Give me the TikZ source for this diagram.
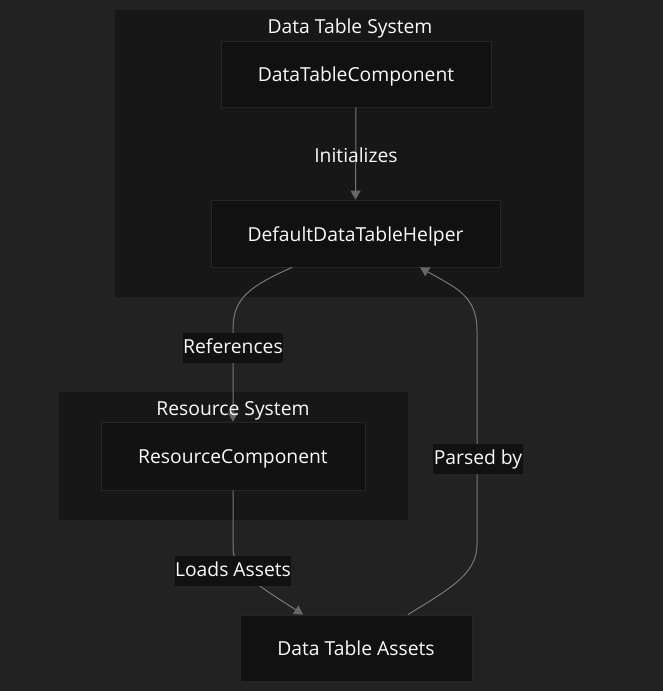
\documentclass[tikz,border=0pt]{standalone}
\usepackage{fontspec}
\setmainfont{Open Sans}
\usetikzlibrary{arrows.meta,calc}
\definecolor{bg}{HTML}{222222}
\definecolor{clus}{HTML}{171717}
\definecolor{nodef}{HTML}{111111}
\definecolor{nodeb}{HTML}{262626}
\definecolor{edgec}{HTML}{777777}
\definecolor{tipc}{HTML}{666666}
\definecolor{txt}{HTML}{FAFAFA}
\tikzset{
  every node/.style={font=\fontsize{19.3}{22}\selectfont, text=txt, text height=14pt, text depth=4pt},
  cluster/.style={fill=clus, draw=none},
  box/.style={rectangle, fill=nodef, draw=nodeb, line width=0.8pt, inner sep=0pt, text height=16.5pt, text depth=1.5pt},
  edge/.style={draw=edgec, line width=1pt, -{Triangle[width=10pt,length=9pt,color=tipc]}},
  lbl/.style={fill=nodef, inner xsep=0.5pt, inner ysep=6pt},
}
\begin{document}
\begin{tikzpicture}[x=1pt,y=-1pt]
\fill[bg] (0,0) rectangle (663,691);
\useasboundingbox (0,0) rectangle (663,691);
% clusters
\fill[cluster] (115,10) rectangle (584,297);
\node (t1) at (350,28) {Data Table System};
\fill[cluster] (59,392) rectangle (408,520);
% nodes
\node[box, minimum width=270pt, minimum height=66pt] (dtc) at (356,74) {DataTableComponent};
\node[box, minimum width=289pt, minimum height=67pt] (ddh) at (355.5,233.5) {DefaultDataTableHelper};
\node[box, minimum width=264pt, minimum height=68pt] (rc) at (233,456) {ResourceComponent};
\node[box, minimum width=232pt, minimum height=66pt] (dta) at (356,648) {Data Table Assets};
% edges
\draw[edge] (dtc.south) -- (ddh.north);
\node[inner sep=1pt] (l1) at (356,157.5) {Initializes};
\draw[edge] ([xshift=-63.5pt]ddh.south) .. controls +(-45,20) and +(0,-30) .. ($(rc.north)+(0,-92)$) -- (rc.north);
\node[lbl] (l2) at (233,348) {References};
\node (t2) at (233,410) {Resource System};
\draw[edge] (rc.south) -- ($(rc.south)+(0,58)$) .. controls +(0,25) and +(-30,-20) .. ([xshift=-53pt]dta.north);
\node[lbl] (l3) at (233,571) {Loads Assets};
\draw[edge] ([xshift=52pt]dta.north) .. controls +(40,-25) and +(0,30) .. ($(dta.north)+(121,-70)$) -- ($(ddh.south)+(121.5,63)$) .. controls +(0,-35) and +(35,20) .. ([xshift=64.5pt]ddh.south);
\node[lbl] (l4) at (478,459) {Parsed by};
\end{tikzpicture}
\end{document}
